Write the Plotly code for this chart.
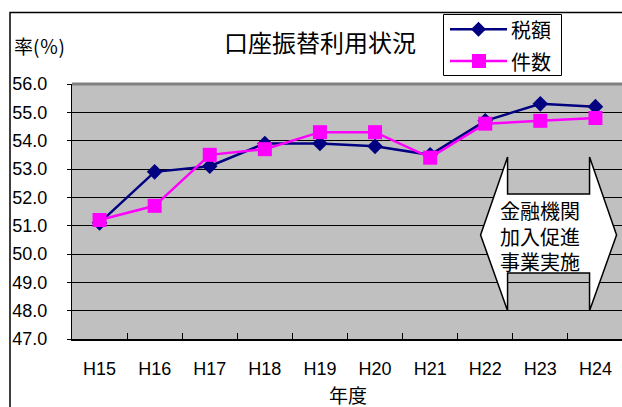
import plotly.graph_objects as go

# 年度と口座振替利用率(%)
years = ["H15", "H16", "H17", "H18", "H19", "H20", "H21", "H22", "H23", "H24"]
zeigaku = [51.1, 52.9, 53.1, 53.9, 53.9, 53.8, 53.5, 54.7, 55.3, 55.2]
kensu = [51.2, 51.7, 53.5, 53.7, 54.3, 54.3, 53.4, 54.6, 54.7, 54.8]
series_names = ["税額", "件数"]
series_colors = ["#000080", "#FF00FF"]
note_lines = ["金融機関", "加入促進", "事業実施"]

xi = list(range(len(years)))
LAT = "Liberation Sans, Noto Sans CJK JP, sans-serif"
JP = "Noto Sans CJK JP, sans-serif"

# 作図領域(px)
W, H = 622, 407
ML, MT, MB = 72, 84, 68
PW, PH = W - ML, H - MT - MB


def px(x):
    return (x - ML) / PW


def py(y):
    return (H - MB - y) / PH


fig = go.Figure()
fig.add_trace(go.Scatter(
    x=xi, y=zeigaku, name=series_names[0], mode="lines+markers",
    line=dict(color=series_colors[0], width=2.5),
    marker=dict(symbol="diamond", size=12, color=series_colors[0]),
))
fig.add_trace(go.Scatter(
    x=xi, y=kensu, name=series_names[1], mode="lines+markers",
    line=dict(color=series_colors[1], width=2.5),
    marker=dict(symbol="square", size=14, color=series_colors[1]),
))

# 金融機関加入促進事業の期間を示す上下ノッチ付き両矢印
xl, xr, xa, xb = 7.405, 8.893, 6.915, 9.383
yt, ytn, ybn, yb, ym = 53.42, 52.12, 49.33, 48.0, 50.67
arrow = (f"M{xl},{yt} L{xl},{ytn} L{xr},{ytn} L{xr},{yt} L{xb},{ym} "
         f"L{xr},{yb} L{xr},{ybn} L{xl},{ybn} L{xl},{yb} L{xa},{ym} Z")
fig.add_shape(type="path", path=arrow, xref="x", yref="y",
              fillcolor="white", line=dict(color="black", width=1.5), layer="above")
for k, yy in enumerate([210, 236, 261]):
    fig.add_annotation(x=px(539.5), y=py(yy), xref="paper", yref="paper",
                       text=note_lines[k], showarrow=False,
                       xanchor="center", yanchor="middle",
                       font=dict(family=JP, size=20, color="black"))

# 作図領域上端の灰色線
fig.add_shape(type="line", xref="paper", yref="paper", x0=0, x1=1, y0=1, y1=1,
              line=dict(color="#808080", width=3), layer="above")
# 外枠
fig.add_shape(type="rect", xref="paper", yref="paper",
              x0=px(10), x1=px(700), y0=py(500), y1=py(12.5),
              line=dict(color="black", width=1.5), fillcolor="rgba(0,0,0,0)")

# 凡例
fig.add_shape(type="rect", xref="paper", yref="paper",
              x0=px(443.5), x1=px(561.5), y0=py(75.5), y1=py(14.5),
              line=dict(color="black", width=1), fillcolor="white")
for k, yy in enumerate([29.3, 61]):
    fig.add_shape(type="line", xref="paper", yref="paper",
                  x0=px(450), x1=px(507), y0=py(yy), y1=py(yy),
                  line=dict(color=series_colors[k], width=2.5))
    fig.add_annotation(text=series_names[k], xref="paper", yref="paper",
                       x=px(509), y=py(yy), xanchor="left", yanchor="middle",
                       showarrow=False,
                       font=dict(family=JP, size=20, color="black"))
cx, cy, r = 478.5, 29.3, 7.5
fig.add_shape(type="path", xref="paper", yref="paper",
              path=(f"M{px(cx)},{py(cy - r)} L{px(cx + r)},{py(cy)} "
                    f"L{px(cx)},{py(cy + r)} L{px(cx - r)},{py(cy)} Z"),
              fillcolor=series_colors[0], line=dict(width=0))
cx, cy, r = 479, 61, 7
fig.add_shape(type="rect", xref="paper", yref="paper",
              x0=px(cx - r), x1=px(cx + r), y0=py(cy + r), y1=py(cy - r),
              fillcolor=series_colors[1], line=dict(width=0))

fig.add_annotation(text="口座振替利用状況", xref="paper", yref="paper",
                   x=px(320), y=py(42), xanchor="center", yanchor="middle",
                   showarrow=False,
                   font=dict(family=JP, size=24, color="black"))
fig.add_annotation(text="率(％)", xref="paper", yref="paper",
                   x=px(12), y=py(45), xanchor="left", yanchor="middle",
                   showarrow=False,
                   font=dict(family=JP, size=19, color="black"))
fig.add_annotation(text="年度", xref="paper", yref="paper",
                   x=px(348), y=py(394), xanchor="center", yanchor="middle",
                   showarrow=False,
                   font=dict(family=JP, size=19, color="black"))

fig.update_layout(
    width=W, height=H,
    margin=dict(l=ML, r=0, t=MT, b=MB),
    paper_bgcolor="white", plot_bgcolor="#C0C0C0",
    showlegend=False,
)
fig.update_xaxes(
    range=[-0.5, -0.5 + PW / 55.1], tickvals=xi, ticktext=years,
    ticks="", showgrid=False, zeroline=False,
    showline=True, linecolor="black", linewidth=2,
    tickfont=dict(family=LAT, size=18, color="black"),
    ticklabelstandoff=12,
    minor=dict(tickvals=[i + 0.5 for i in xi[:-1]], ticks="inside",
               ticklen=6, tickcolor="black", tickwidth=1, showgrid=False),
)
fig.update_yaxes(
    range=[47, 56], dtick=1, tick0=47, tickformat=".1f",
    showgrid=True, gridcolor="black", gridwidth=1, zeroline=False,
    showline=True, linecolor="black", linewidth=1,
    ticks="outside", ticklen=4, tickcolor="black",
    tickfont=dict(family=LAT, size=18, color="black"),
    ticklabelstandoff=16,
)

fig.write_html("out.html")
